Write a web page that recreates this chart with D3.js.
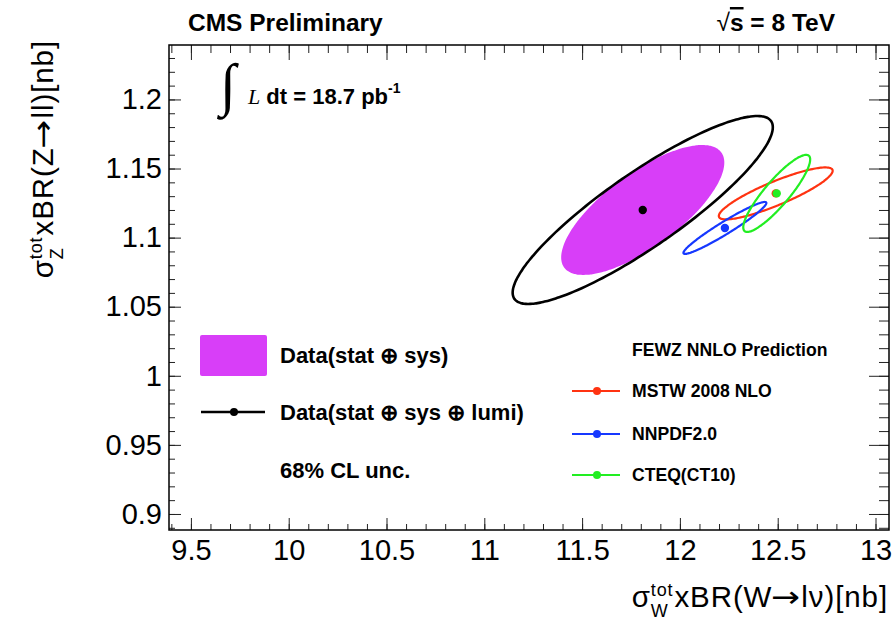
<!DOCTYPE html>
<html>
<head>
<meta charset="utf-8">
<script src="https://cdn.jsdelivr.net/npm/d3@7"></script>
<style>
  body { margin: 0; background: #fff; }
  text { font-family: 'Liberation Sans', Arial, sans-serif; }
</style>
</head>
<body>
<svg width="893" height="622"></svg>
<script>
// axis ticks
const xTicks = [9.5, 10, 10.5, 11, 11.5, 12, 12.5, 13];
const yTicks = [0.9, 0.95, 1, 1.05, 1.1, 1.15, 1.2];

// 68% CL ellipses: centre, width, correlation
const ellipseNames = ['Data(stat ⊕ sys)', 'Data(stat ⊕ sys ⊕ lumi)', 'MSTW 2008 NLO', 'NNPDF2.0', 'CTEQ(CT10)'];
const centerW = [11.81, 11.81, 12.49, 12.23, 12.495];
const centerZ = [1.120, 1.120, 1.132, 1.107, 1.132];
const sigmaW = [0.417, 0.665, 0.291, 0.212, 0.171];
const sigmaZ = [0.047, 0.068, 0.0188, 0.0188, 0.0279];
const corr = [0.73, 0.88, 0.87, 0.96, 0.88];
const colors = ['#d83ef8', '#000000', '#ff3311', '#1638ff', '#22ee22'];

const svg = d3.select('svg');
const frame = {left: 169, right: 889, top: 45, bottom: 530};

const x = d3.scaleLinear().domain([9.388, 13.069]).range([frame.left, frame.right]);
const y = d3.scaleLinear().domain([0.8884, 1.2394]).range([frame.bottom, frame.top]);

const minorX = d3.range(94, 131).map(d => d / 10);
const minorY = d3.range(89, 124).map(d => d / 100);

function ellipsePoints(i) {
  const r = corr[i], s = Math.sqrt(1 - r * r);
  return d3.range(0, 360, 2).map(a => {
    const t = a * Math.PI / 180;
    return [x(centerW[i] + sigmaW[i] * Math.cos(t)),
            y(centerZ[i] + sigmaZ[i] * (r * Math.cos(t) + s * Math.sin(t)))];
  });
}
const line = d3.line().curve(d3.curveCardinalClosed);

// ellipses
const plot = svg.append('g');
plot.append('path')
  .attr('d', line(ellipsePoints(0)))
  .attr('fill', colors[0]);
[1, 2, 3, 4].forEach(i => {
  plot.append('path')
    .attr('d', line(ellipsePoints(i)))
    .attr('fill', 'none')
    .attr('stroke', colors[i])
    .attr('stroke-width', i === 1 ? 2.6 : 2.2);
});
[1, 2, 3, 4].forEach(i => {
  plot.append('circle')
    .attr('cx', x(centerW[i]))
    .attr('cy', y(centerZ[i]))
    .attr('r', 4.2)
    .attr('fill', colors[i]);
});

// axes, ticks pointing inward
function styleAxis(g) {
  g.select('.domain').remove();
  g.selectAll('line').attr('stroke', '#222');
  g.selectAll('text').attr('fill', '#000')
    .style('font-family', "'Liberation Sans', Arial, sans-serif")
    .style('font-size', '29px');
}
svg.append('g').attr('transform', `translate(0,${frame.bottom})`)
  .call(d3.axisBottom(x).tickValues(minorX).tickSizeInner(-6).tickSizeOuter(0).tickFormat(''))
  .call(styleAxis);
svg.append('g').attr('transform', `translate(0,${frame.bottom})`)
  .call(d3.axisBottom(x).tickValues(xTicks).tickSizeInner(-12).tickSizeOuter(0).tickPadding(9).tickFormat(d3.format('')))
  .call(styleAxis);
svg.append('g').attr('transform', `translate(0,${frame.top})`)
  .call(d3.axisTop(x).tickValues(minorX).tickSizeInner(-8).tickSizeOuter(0).tickFormat(''))
  .call(styleAxis);
svg.append('g').attr('transform', `translate(0,${frame.top})`)
  .call(d3.axisTop(x).tickValues(xTicks).tickSizeInner(-15).tickSizeOuter(0).tickFormat(''))
  .call(styleAxis);
svg.append('g').attr('transform', `translate(${frame.left},0)`)
  .call(d3.axisLeft(y).tickValues(minorY).tickSizeInner(-6).tickSizeOuter(0).tickFormat(''))
  .call(styleAxis);
svg.append('g').attr('transform', `translate(${frame.left},0)`)
  .call(d3.axisLeft(y).tickValues(yTicks).tickSizeInner(-12).tickSizeOuter(0).tickPadding(7).tickFormat(d3.format('')))
  .call(styleAxis);
svg.append('g').attr('transform', `translate(${frame.right},0)`)
  .call(d3.axisRight(y).tickValues(minorY).tickSizeInner(-10).tickSizeOuter(0).tickFormat(''))
  .call(styleAxis);
svg.append('g').attr('transform', `translate(${frame.right},0)`)
  .call(d3.axisRight(y).tickValues(yTicks).tickSizeInner(-20).tickSizeOuter(0).tickFormat(''))
  .call(styleAxis);

svg.append('rect')
  .attr('x', frame.left).attr('y', frame.top)
  .attr('width', frame.right - frame.left).attr('height', frame.bottom - frame.top)
  .attr('fill', 'none').attr('stroke', '#000').attr('stroke-width', 1.5);

// axis titles: sigma with stacked sub/superscript, right-aligned at the group origin
function sigmaTitle(g, sub, parts) {
  const t = g.append('text').style('font-size', '29.5px').style('letter-spacing', '0.9px');
  t.append('tspan').text('σ');
  const sup = t.append('tspan').attr('dy', -11).style('font-size', '18px').text('tot');
  const supW = sup.node().getComputedTextLength();
  const sb = t.append('tspan').attr('dx', -supW).attr('dy', 21).style('font-size', '18px').text(sub);
  const subW = sb.node().getComputedTextLength();
  t.append('tspan').attr('dx', Math.max(0, supW - subW) + 1).attr('dy', -10).text(parts[0]);
  t.append('tspan').style('font-family', "'DejaVu Sans', sans-serif").attr('dx', -1)
    .attr('textLength', 30).attr('lengthAdjust', 'spacingAndGlyphs').text(parts[1]);
  t.append('tspan').attr('dx', 0).text(parts[2]);
  const b = t.node().getBBox();
  t.attr('x', -(b.x + b.width));
  return t;
}
sigmaTitle(svg.append('g').attr('transform', 'translate(888,607)'), 'W', ['xBR(W', '→', 'lν)[nb]']);
sigmaTitle(svg.append('g').attr('transform', 'translate(53,40) rotate(-90)'), 'Z', ['xBR(Z', '→', 'll)[nb]']);

// header
svg.append('text').attr('x', 188).attr('y', 31)
  .style('font-size', '24.5px').style('font-weight', 'bold')
  .text('CMS Preliminary');
const rs = svg.append('text').attr('x', 835).attr('y', 31)
  .attr('text-anchor', 'end')
  .style('font-size', '24.5px').style('font-weight', 'bold');
rs.append('tspan').style('font-weight', 'normal').text('√');
rs.append('tspan').style('text-decoration', 'overline').text('s');
rs.append('tspan').text(' = 8 TeV');

// luminosity
svg.append('text').attr('x', 220).attr('y', 104)
  .style('font-family', "'Liberation Serif', serif").style('font-size', '58px')
  .text('∫');
const lumi = svg.append('text').attr('x', 248).attr('y', 104)
  .style('font-size', '22px').style('font-weight', 'bold');
lumi.append('tspan').style('font-family', "'Liberation Serif', serif")
  .style('font-style', 'italic').style('font-weight', 'normal').text('L');
lumi.append('tspan').text(' dt = 18.7 pb');
lumi.append('tspan').attr('dy', -11).style('font-size', '14px').text('-1');

// data legend
const legData = svg.append('g');
legData.append('rect')
  .attr('x', 200).attr('y', 335).attr('width', 67).attr('height', 41)
  .attr('rx', 2).attr('fill', colors[0]);
legData.append('line')
  .attr('x1', 201).attr('x2', 265).attr('y1', 412).attr('y2', 412)
  .attr('stroke', colors[1]).attr('stroke-width', 2.6);
legData.append('circle').attr('cx', 234).attr('cy', 412).attr('r', 4).attr('fill', colors[1]);
legData.selectAll('text.lab')
  .data([ellipseNames[0], ellipseNames[1], '68% CL unc.'])
  .enter().append('text')
    .attr('x', 280)
    .attr('y', (d, i) => [363, 420, 478][i])
    .style('font-size', '22px').style('font-weight', 'bold')
    .text(d => d);

// prediction legend
const legPred = svg.append('g');
legPred.append('text').attr('x', 632).attr('y', 356)
  .style('font-size', '17.6px').style('font-weight', 'bold')
  .text('FEWZ NNLO Prediction');
const predY = [391, 434, 475];
[2, 3, 4].forEach((k, j) => {
  legPred.append('line')
    .attr('x1', 572).attr('x2', 620).attr('y1', predY[j]).attr('y2', predY[j])
    .attr('stroke', colors[k]).attr('stroke-width', 2.2);
  legPred.append('circle').attr('cx', 597).attr('cy', predY[j]).attr('r', 4).attr('fill', colors[k]);
  legPred.append('text').attr('x', 632).attr('y', predY[j] + 6)
    .style('font-size', '17.6px').style('font-weight', 'bold')
    .text(ellipseNames[k]);
});
</script>
</body>
</html>
